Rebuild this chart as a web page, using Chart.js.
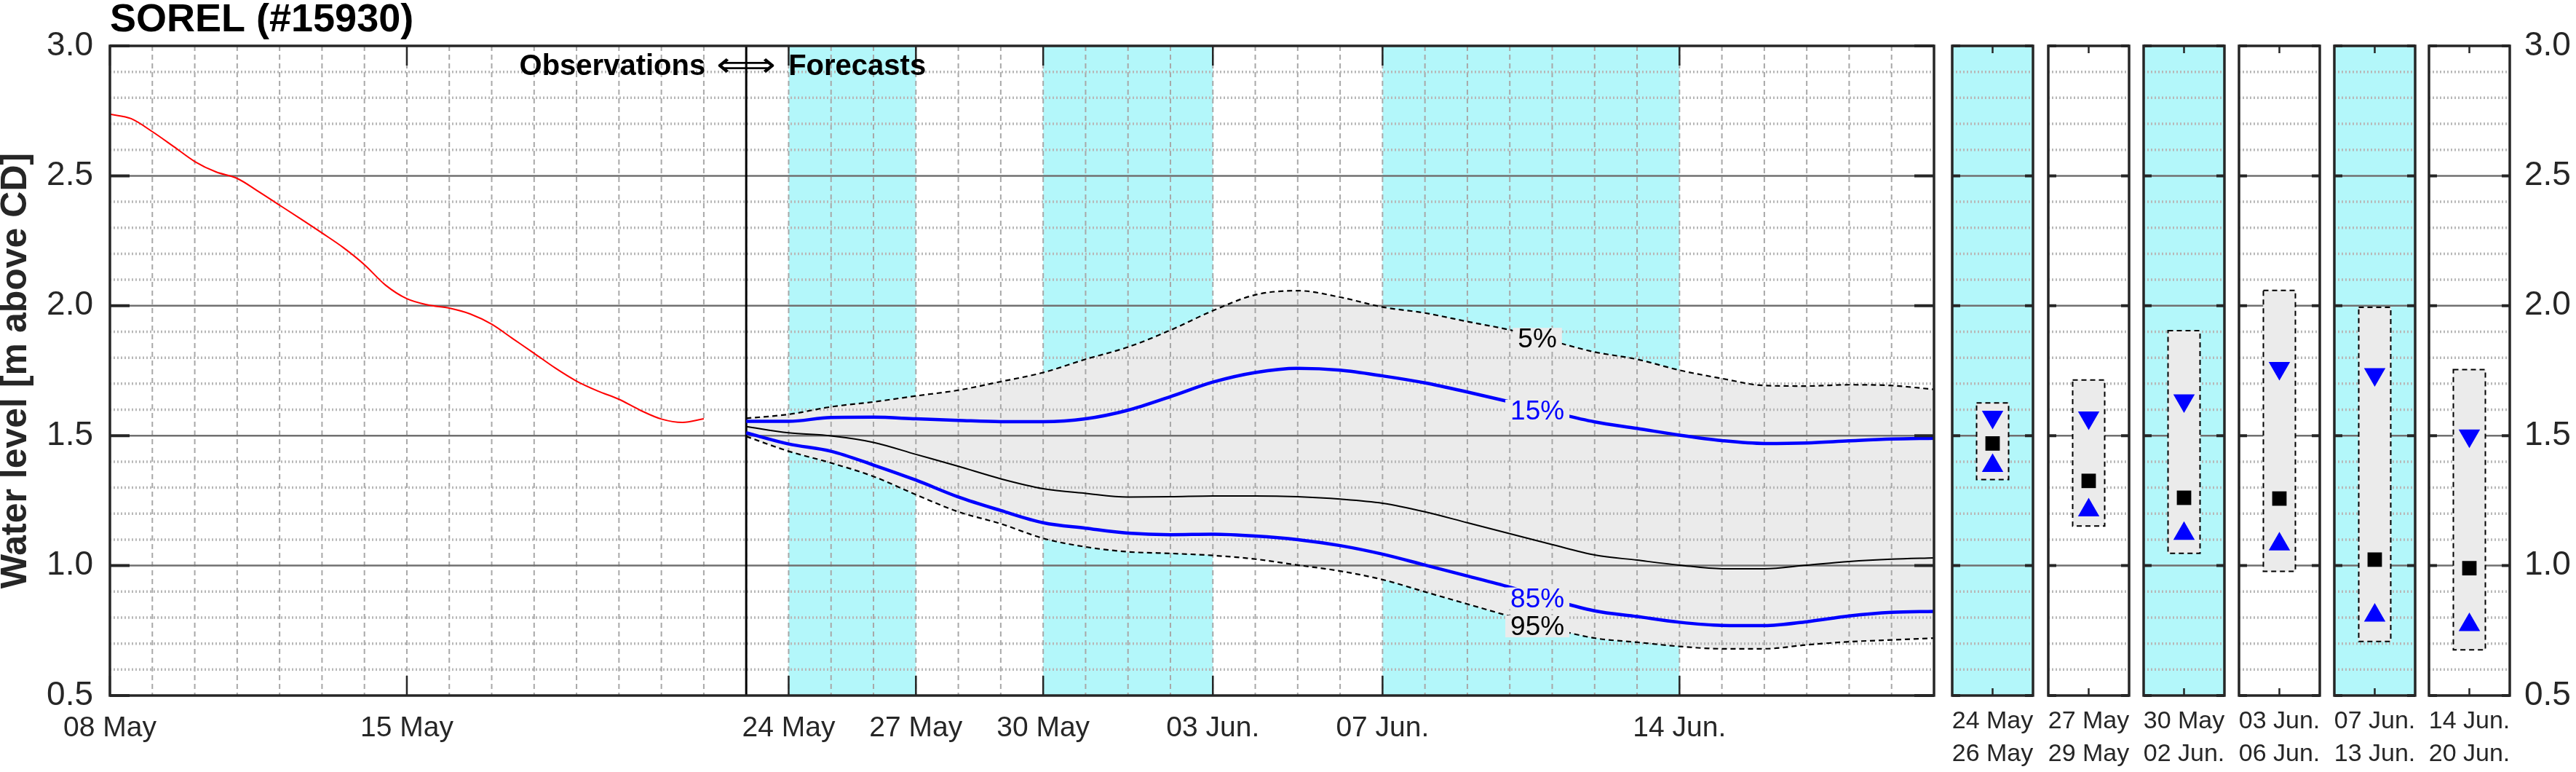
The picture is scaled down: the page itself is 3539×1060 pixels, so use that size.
<!DOCTYPE html>
<html>
<head>
<meta charset="utf-8">
<script src="https://cdn.jsdelivr.net/npm/chart.js@4.4.1/dist/chart.umd.min.js"></script>
<style>
  body { margin: 0; background: #fff; width: 3539px; height: 1060px; overflow: hidden; position: relative; }
  .box { position: absolute; top: 0; height: 1060px; }
</style>
</head>
<body>
<div class="box" style="left:0;width:2680px"><canvas id="main"></canvas></div>
<div id="panels"></div>
<script>
// day 0 = 08 May, forecast starts 23 May (day 15)
const obsDays = [0, 0.5, 1, 1.5, 2, 2.5, 3, 3.5, 4, 4.5, 5, 5.5, 6, 6.5, 7, 7.5, 8, 8.5, 9, 9.5, 10, 10.5, 11, 11.5, 12, 12.5, 13, 13.5, 14];
const obsLevel = [2.737, 2.72, 2.67, 2.613, 2.555, 2.515, 2.49, 2.44, 2.387, 2.334, 2.28, 2.224, 2.158, 2.079, 2.027, 2.003, 1.991, 1.968, 1.929, 1.873, 1.817, 1.76, 1.71, 1.672, 1.64, 1.598, 1.564, 1.551, 1.565];

const fcDays = [15, 16, 17, 18, 19, 20, 21, 22, 23, 24, 25, 26, 27, 28, 29, 30, 31, 32, 33, 34, 35, 36, 37, 38, 39, 40, 41, 42, 43];
const p5  = [1.567, 1.582, 1.611, 1.630, 1.653, 1.675, 1.708, 1.743, 1.794, 1.841, 1.906, 1.981, 2.042, 2.058, 2.033, 1.995, 1.972, 1.939, 1.907, 1.864, 1.822, 1.794, 1.752, 1.720, 1.693, 1.691, 1.696, 1.693, 1.678];
const p15 = [1.555, 1.555, 1.570, 1.571, 1.565, 1.559, 1.554, 1.554, 1.565, 1.598, 1.650, 1.706, 1.743, 1.759, 1.752, 1.730, 1.703, 1.668, 1.630, 1.590, 1.553, 1.528, 1.502, 1.481, 1.470, 1.472, 1.480, 1.487, 1.490];
const p50 = [1.535, 1.511, 1.499, 1.474, 1.428, 1.382, 1.334, 1.296, 1.278, 1.264, 1.265, 1.268, 1.268, 1.265, 1.256, 1.240, 1.207, 1.165, 1.123, 1.081, 1.041, 1.021, 1.002, 0.988, 0.988, 1.002, 1.016, 1.025, 1.030];
const p85 = [1.511, 1.468, 1.440, 1.387, 1.329, 1.264, 1.212, 1.165, 1.144, 1.125, 1.119, 1.121, 1.114, 1.100, 1.077, 1.044, 1.002, 0.960, 0.917, 0.868, 0.826, 0.804, 0.782, 0.770, 0.769, 0.784, 0.806, 0.820, 0.824];
const p95 = [1.497, 1.440, 1.395, 1.343, 1.273, 1.207, 1.161, 1.105, 1.072, 1.053, 1.047, 1.039, 1.025, 1.002, 0.979, 0.946, 0.899, 0.852, 0.805, 0.758, 0.721, 0.705, 0.689, 0.680, 0.680, 0.695, 0.707, 0.714, 0.721];

const xTickDays = [0, 7, 16, 19, 22, 26, 30, 37];
const xTickLabels = ['08 May', '15 May', '24 May', '27 May', '30 May', '03 Jun.', '07 Jun.', '14 Jun.'];
const yTicks = [0.5, 1.0, 1.5, 2.0, 2.5, 3.0];
const bandStart = [16, 22, 30];
const bandEnd = [19, 26, 37];
const obsEnd = 15;

const pctLabels = ['5%', '15%', '85%', '95%'];
const pctLevels = [1.873, 1.596, 0.874, 0.766];
const pctColors = ['#000000', '#0000ff', '#0000ff', '#000000'];

// period summaries (small panels)
const panelLabels = [['24 May', '26 May'], ['27 May', '29 May'], ['30 May', '02 Jun.'], ['03 Jun.', '06 Jun.'], ['07 Jun.', '13 Jun.'], ['14 Jun.', '20 Jun.']];
const panelShaded = [true, false, true, false, true, false];
const panelHigh = [1.626, 1.714, 1.904, 2.059, 1.994, 1.754];
const panelLow  = [1.331, 1.152, 1.047, 0.978, 0.708, 0.676];
const panelQ15  = [1.572, 1.569, 1.635, 1.760, 1.736, 1.500];
const panelMed  = [1.470, 1.326, 1.261, 1.258, 1.023, 0.990];
const panelQ85  = [1.384, 1.213, 1.123, 1.082, 0.808, 0.772];

const FONT = "'Liberation Sans', Arial, Helvetica, sans-serif";
const INK = '#262626';
const CYAN = '#b3f7fa';
const FILL = '#ebebeb';
Chart.defaults.font.family = FONT;
Chart.defaults.color = INK;

function hGrid(ctx, y, left, right) {
  ctx.save();
  for (let k = 6; k < 30; k++) {
    const py = y.getPixelForValue(k / 10);
    if (k % 5 === 0) { ctx.setLineDash([]); ctx.strokeStyle = '#707070'; ctx.lineWidth = 2.5; }
    else { ctx.setLineDash([2, 3]); ctx.strokeStyle = '#b8b8b8'; ctx.lineWidth = 3.5; }
    ctx.beginPath(); ctx.moveTo(left, py); ctx.lineTo(right, py); ctx.stroke();
  }
  ctx.restore();
}

function frame(ctx, a, y, yTickLen) {
  ctx.save();
  ctx.strokeStyle = INK;
  ctx.lineWidth = 4;
  yTicks.forEach(v => {
    const py = y.getPixelForValue(v);
    ctx.beginPath();
    ctx.moveTo(a.left, py); ctx.lineTo(a.left + yTickLen, py);
    ctx.moveTo(a.right, py); ctx.lineTo(a.right - yTickLen, py);
    ctx.stroke();
  });
  ctx.lineWidth = 3.5;
  ctx.strokeRect(a.left, a.top, a.right - a.left, a.bottom - a.top);
  ctx.restore();
}

const mainDecor = {
  id: 'mainDecor',
  beforeDraw(chart) {
    const { ctx, chartArea: a, scales: { x } } = chart;
    ctx.save();
    ctx.fillStyle = CYAN;
    bandStart.forEach((s, i) => {
      const x0 = x.getPixelForValue(s), x1 = x.getPixelForValue(bandEnd[i]);
      ctx.fillRect(x0, a.top, x1 - x0, a.bottom - a.top);
    });
    ctx.restore();
  },
  beforeDatasetsDraw(chart) {
    // runs after the filler, so the grid sits over the grey band
    const { ctx, chartArea: a, scales: { x, y } } = chart;
    ctx.save();
    ctx.setLineDash([7, 5]);
    ctx.strokeStyle = '#a8a8a8';
    ctx.lineWidth = 2;
    for (let d = 1; d < 43; d++) {
      const px = x.getPixelForValue(d);
      ctx.beginPath(); ctx.moveTo(px, a.top); ctx.lineTo(px, a.bottom); ctx.stroke();
    }
    ctx.restore();
    hGrid(ctx, y, a.left, a.right);
    ctx.save();
    ctx.strokeStyle = '#000';
    ctx.lineWidth = 3;
    const px = x.getPixelForValue(obsEnd);
    ctx.beginPath(); ctx.moveTo(px, a.top); ctx.lineTo(px, a.bottom); ctx.stroke();
    ctx.restore();
  },
  afterDatasetsDraw(chart) {
    const { ctx, scales: { x, y } } = chart;
    ctx.save();
    ctx.font = '37px ' + FONT;
    ctx.textAlign = 'center';
    ctx.textBaseline = 'middle';
    const lx = x.getPixelForValue(33.65);
    pctLabels.forEach((t, i) => {
      const py = y.getPixelForValue(pctLevels[i]);
      const w = ctx.measureText(t).width + 14;
      ctx.fillStyle = FILL;
      ctx.fillRect(lx - w / 2, py - 15, w, 30);
      ctx.fillStyle = pctColors[i];
      ctx.fillText(t, lx, py + 2);
    });
    ctx.restore();
  },
  afterDraw(chart) {
    const { ctx, chartArea: a, scales: { x, y } } = chart;
    ctx.save();
    ctx.strokeStyle = INK;
    ctx.lineWidth = 2.5;
    xTickDays.forEach(d => {
      const px = x.getPixelForValue(d);
      ctx.beginPath();
      ctx.moveTo(px, a.top); ctx.lineTo(px, a.top + 27);
      ctx.moveTo(px, a.bottom); ctx.lineTo(px, a.bottom - 27);
      ctx.stroke();
    });
    ctx.restore();
    frame(ctx, a, y, 27);
    // titles
    ctx.save();
    ctx.fillStyle = '#000';
    ctx.font = 'bold 54px ' + FONT;
    ctx.textBaseline = 'alphabetic';
    ctx.textAlign = 'left';
    ctx.fillText('SOREL (#15930)', a.left, 43);
    const dx = x.getPixelForValue(obsEnd);
    ctx.font = 'bold 40px ' + FONT;
    ctx.textBaseline = 'middle';
    ctx.textAlign = 'right';
    ctx.fillText('Observations', dx - 56, 92);
    ctx.textAlign = 'left';
    ctx.fillText('Forecasts', dx + 58, 92);
    // long double arrow, stretched to fill the gap
    ctx.font = '48px DejaVu Sans';
    ctx.textAlign = 'center';
    const aw = ctx.measureText('\u27FA').width;
    ctx.translate(dx, 93);
    ctx.scale(82 / aw, 1);
    ctx.fillText('\u27FA', 0, 0);
    ctx.restore();
  }
};

const series = (data, extra) => Object.assign({
  data: data.map((v, i) => ({ x: fcDays[i], y: v })),
  pointRadius: 0, fill: false, cubicInterpolationMode: 'monotone'
}, extra);

new Chart(document.getElementById('main'), {
  type: 'line',
  data: {
    datasets: [
      { data: obsLevel.map((v, i) => ({ x: obsDays[i], y: v })), borderColor: '#ff0000', borderWidth: 2, pointRadius: 0, cubicInterpolationMode: 'monotone', fill: false },
      series(p5, { borderColor: '#000', borderWidth: 2.2, borderDash: [7, 5], fill: 5, backgroundColor: FILL }),
      series(p15, { borderColor: '#0000ff', borderWidth: 4.5 }),
      series(p50, { borderColor: '#000', borderWidth: 2 }),
      series(p85, { borderColor: '#0000ff', borderWidth: 4.5 }),
      series(p95, { borderColor: '#000', borderWidth: 2.2, borderDash: [7, 5] })
    ]
  },
  options: {
    responsive: true,
    maintainAspectRatio: false,
    animation: false,
    layout: { padding: { top: 63, right: 23, bottom: 0, left: 0 } },
    plugins: {
      legend: { display: false },
      tooltip: { enabled: false },
      filler: { drawTime: 'beforeDatasetsDraw' }
    },
    scales: {
      x: {
        type: 'linear', min: 0, max: 43,
        afterBuildTicks: (axis) => { axis.ticks = xTickDays.map(v => ({ value: v })); },
        ticks: { callback: (v, i) => xTickLabels[i], font: { size: 39 }, color: INK, padding: 22, maxRotation: 0, autoSkip: false },
        grid: { display: false, drawTicks: false },
        border: { display: false },
        afterFit: (s) => { s.height = 105; }
      },
      y: {
        min: 0.5, max: 3.0,
        afterBuildTicks: (axis) => { axis.ticks = yTicks.map(v => ({ value: v })); },
        ticks: { callback: (v) => v.toFixed(1), font: { size: 46 }, color: INK, padding: 23 },
        grid: { display: false, drawTicks: false },
        border: { display: false },
        title: { display: true, text: 'Water level [m above CD]', font: { size: 50, weight: 'bold', lineHeight: 0.9 }, color: INK, padding: 0 },
        afterFit: (s) => { s.width = 151; }
      }
    }
  },
  plugins: [mainDecor]
});

const panelDecor = {
  id: 'panelDecor',
  beforeDraw(chart, args, opts) {
    if (!opts.shaded) return;
    const { ctx, chartArea: a } = chart;
    ctx.save();
    ctx.fillStyle = CYAN;
    ctx.fillRect(a.left, a.top, a.right - a.left, a.bottom - a.top);
    ctx.restore();
  },
  beforeDatasetsDraw(chart) {
    const { ctx, chartArea: a, scales: { y } } = chart;
    hGrid(ctx, y, a.left, a.right);
  },
  afterDatasetDraw(chart, args) {
    if (args.index !== 0) return;
    const el = chart.getDatasetMeta(0).data[0];
    const top = Math.min(el.y, el.base), bot = Math.max(el.y, el.base);
    const { ctx } = chart;
    ctx.save();
    ctx.strokeStyle = '#000';
    ctx.lineWidth = 2;
    ctx.setLineDash([7, 5]);
    ctx.strokeRect(el.x - el.width / 2, top, el.width, bot - top);
    ctx.restore();
  },
  afterDraw(chart, args, opts) {
    const { ctx, chartArea: a, scales: { y } } = chart;
    const cx = (a.left + a.right) / 2;
    ctx.save();
    ctx.strokeStyle = INK;
    ctx.lineWidth = 2.5;
    ctx.beginPath();
    ctx.moveTo(cx, a.top); ctx.lineTo(cx, a.top + 10);
    ctx.moveTo(cx, a.bottom); ctx.lineTo(cx, a.bottom - 10);
    ctx.stroke();
    ctx.restore();
    frame(ctx, a, y, 11);
    // period label, two lines under the panel
    ctx.save();
    ctx.font = '34px ' + FONT;
    ctx.fillStyle = INK;
    ctx.textAlign = 'center';
    ctx.textBaseline = 'middle';
    opts.label.forEach((t, k) => ctx.fillText(t, cx, a.bottom + 36 + k * 45));
    ctx.restore();
  }
};

const panelLeft = [2682, 2814, 2945, 3076, 3207, 3337];
const panelsDiv = document.getElementById('panels');
panelLabels.forEach((lab, i) => {
  const last = i === panelLabels.length - 1;
  const box = document.createElement('div');
  box.className = 'box';
  const left = panelLeft[i] - 30;
  box.style.left = left + 'px';
  box.style.width = (last ? 3539 - left : 171) + 'px';
  const cv = document.createElement('canvas');
  box.appendChild(cv);
  panelsDiv.appendChild(box);
  new Chart(cv, {
    type: 'bar',
    data: {
      labels: [lab.join(' - ')],
      datasets: [
        { data: [[panelLow[i], panelHigh[i]]], backgroundColor: FILL, borderWidth: 0, barThickness: 44, order: 3 },
        { type: 'line', data: [panelQ15[i]], showLine: false, pointStyle: 'triangle', pointRotation: 180, pointRadius: 17, pointBackgroundColor: '#0000ff', pointBorderWidth: 0, order: 1 },
        { type: 'line', data: [panelMed[i]], showLine: false, pointStyle: 'rect', pointRadius: 14, pointBackgroundColor: '#000', pointBorderWidth: 0, order: 1 },
        { type: 'line', data: [panelQ85[i]], showLine: false, pointStyle: 'triangle', pointRadius: 17, pointBackgroundColor: '#0000ff', pointBorderWidth: 0, order: 1 }
      ]
    },
    options: {
      responsive: true,
      maintainAspectRatio: false,
      animation: false,
      layout: { padding: { top: 63, left: 30, right: last ? 0 : 30, bottom: 0 } },
      plugins: { legend: { display: false }, tooltip: { enabled: false }, panelDecor: { shaded: panelShaded[i], label: lab } },
      scales: {
        x: {
          ticks: { display: false },
          grid: { display: false, drawTicks: false },
          border: { display: false },
          afterFit: (s) => { s.height = 105; }
        },
        y: {
          display: last, position: 'right',
          min: 0.5, max: 3.0,
          afterBuildTicks: (axis) => { axis.ticks = yTicks.map(v => ({ value: v })); },
          ticks: { callback: (v) => v.toFixed(1), font: { size: 46 }, color: INK, padding: 20 },
          grid: { display: false, drawTicks: false },
          border: { display: false },
          afterFit: (s) => { s.width = last ? 91 : 0; }
        }
      }
    },
    plugins: [panelDecor]
  });
});
</script>
</body>
</html>
